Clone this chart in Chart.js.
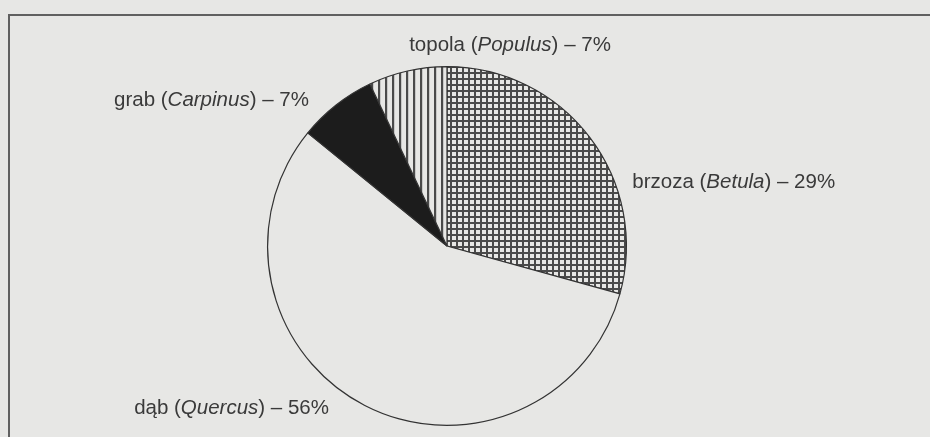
<!DOCTYPE html>
<html>
<head>
<meta charset="utf-8">
<script src="https://cdn.jsdelivr.net/npm/chart.js@4"></script>
<style>
  html, body { margin: 0; padding: 0; background: #e7e7e5; }
  #wrap { position: relative; width: 930px; height: 437px; overflow: hidden; }
  #frame {
    position: absolute; left: 8px; top: 14px; right: -10px; bottom: -10px;
    border-top: 2px solid #606060; border-left: 2px solid #606060;
  }
  canvas { position: absolute; left: 0; top: 0; }
</style>
</head>
<body>
<div id="wrap">
  <div id="frame"></div>
  <canvas id="pieChart" width="930" height="437"></canvas>
</div>
<script>
// Data, clockwise from 12 o'clock
const species = ['brzoza', 'dąb', 'grab', 'topola'];
const latinNames = ['Betula', 'Quercus', 'Carpinus', 'Populus'];
const shares = [29, 56, 7, 7];

// label anchor: left edge / vertical middle, in pie radii from the centre
const labelAnchors = [
    [1.033, -0.356],
    [-1.744, 0.906],
    [-1.856, -0.811],
    [-0.211, -1.117]
];

const paper = '#e7e7e5';
const ink = '#3a3a3a';

// hatch fills
function makePattern(size, draw) {
    const c = document.createElement('canvas');
    c.width = size;
    c.height = size;
    const g = c.getContext('2d');
    g.fillStyle = paper;
    g.fillRect(0, 0, size, size);
    g.fillStyle = '#4a4a4a';
    draw(g, size);
    return g.createPattern(c, 'repeat');
}

const gridFill = makePattern(6, (g, s) => {
    g.fillRect(0, 0, s, 2);
    g.fillRect(0, 0, 2, s);
});
const stripeFill = makePattern(7, (g, s) => {
    g.fillRect(0, 0, 2.2, s);
});

const fills = [gridFill, paper, '#1c1c1c', stripeFill];

// draws the "name (Latin) – N%" labels, Latin part in italics
const sliceLabels = {
    id: 'sliceLabels',
    afterDraw(chart) {
        const arc = chart.getDatasetMeta(0).data[0];
        const cx = arc.x, cy = arc.y, r = arc.outerRadius;
        const c = chart.ctx;
        c.save();
        c.fillStyle = ink;
        c.textBaseline = 'middle';
        species.forEach((name, i) => {
            const parts = [
                [name + ' (', 'normal'],
                [latinNames[i], 'italic'],
                [') – ' + shares[i] + '%', 'normal']
            ];
            let x = cx + labelAnchors[i][0] * r;
            const y = cy + labelAnchors[i][1] * r;
            parts.forEach(([txt, style]) => {
                c.font = style + ' 20.5px "Liberation Sans", Arial, sans-serif';
                c.fillText(txt, x, y);
                x += c.measureText(txt).width;
            });
        });
        c.restore();
    }
};

const ctx = document.getElementById('pieChart').getContext('2d');
const pieChart = new Chart(ctx, {
    type: 'pie',
    data: {
        labels: species,
        datasets: [{
            data: shares,
            backgroundColor: fills,
            borderColor: '#333',
            borderWidth: 1.2,
            hoverOffset: 0
        }]
    },
    options: {
        responsive: false,
        animation: false,
        layout: {
            padding: { left: 267, right: 303, top: 66, bottom: 11 }
        },
        plugins: {
            legend: { display: false },
            tooltip: { enabled: false }
        }
    },
    plugins: [sliceLabels]
});
</script>
</body>
</html>
